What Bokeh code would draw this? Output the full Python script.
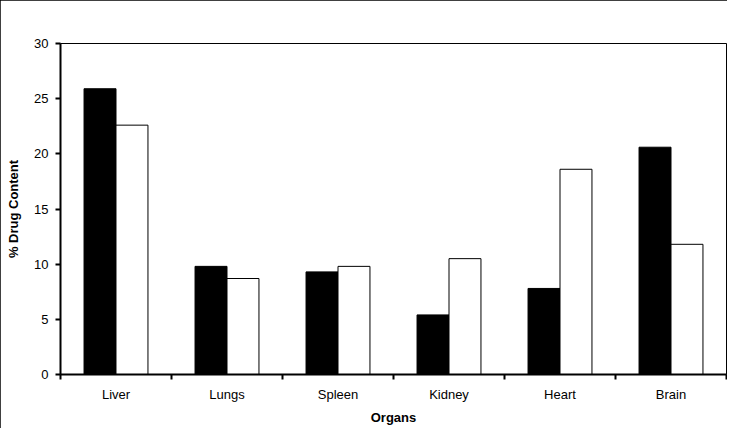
from bokeh.plotting import figure
from bokeh.models import FixedTicker, Range1d, ColumnDataSource
from bokeh.embed import file_html
from bokeh.resources import INLINE

organs = ["Liver", "Lungs", "Spleen", "Kidney", "Heart", "Brain"]
series_black = [25.9, 9.8, 9.3, 5.4, 7.8, 20.6]
series_white = [22.6, 8.7, 9.8, 10.5, 18.6, 11.8]
y_ticks = [0, 5, 10, 15, 20, 25, 30]

n = len(organs)
centers = [i + 0.5 for i in range(n)]
bar_w = 0.288

src = ColumnDataSource(dict(
    xb=[c - bar_w / 2 for c in centers],
    xw=[c + bar_w / 2 for c in centers],
    black=series_black,
    white=series_white,
))

FONT = "Liberation Sans"

p = figure(width=727, height=428, output_backend="svg", toolbar_location=None,
           x_range=Range1d(0, n), y_range=Range1d(0, 30),
           min_border_left=60, min_border_right=1, min_border_top=43, min_border_bottom=54)
p.styles = {"outline": "1px solid black", "outline-offset": "-1px"}

p.vbar(x="xb", width=bar_w, top="black", bottom=0, source=src,
       fill_color="black", line_color="black", line_width=1)
p.vbar(x="xw", width=bar_w, top="white", bottom=0, source=src,
       fill_color="white", line_color="black", line_width=1)

p.xgrid.visible = False
p.ygrid.visible = False
p.background_fill_color = "white"
p.border_fill_color = "white"
p.outline_line_color = "black"
p.outline_line_width = 1

# x axis
xa = p.xaxis[0]
xa.ticker = FixedTicker(ticks=centers, minor_ticks=list(range(n + 1)))
xa.major_label_overrides = {c: o for c, o in zip(centers, organs)}
xa.major_tick_line_color = None
xa.major_tick_out = 5
xa.major_tick_in = 0
xa.minor_tick_line_color = "black"
xa.minor_tick_line_width = 2
xa.minor_tick_out = 5
xa.minor_tick_in = 0
xa.axis_line_width = 2
xa.axis_line_color = "black"
xa.major_label_text_font = FONT
xa.major_label_text_font_size = "13px"
xa.major_label_text_color = "black"
xa.major_label_standoff = 7
xa.axis_label = "Organs"
xa.axis_label_text_font = FONT
xa.axis_label_text_font_size = "13px"
xa.axis_label_text_font_style = "bold"
xa.axis_label_text_color = "black"
xa.axis_label_standoff = 5

# y axis
ya = p.yaxis[0]
ya.ticker = FixedTicker(ticks=y_ticks, minor_ticks=[])
ya.major_tick_line_color = "black"
ya.major_tick_line_width = 2
ya.major_tick_out = 5
ya.major_tick_in = 0
ya.minor_tick_line_color = None
ya.axis_line_width = 2
ya.axis_line_color = "black"
ya.major_label_text_font = FONT
ya.major_label_text_font_size = "13px"
ya.major_label_text_color = "black"
ya.major_label_standoff = 7
ya.axis_label = "% Drug Content"
ya.axis_label_text_font = FONT
ya.axis_label_text_font_size = "13px"
ya.axis_label_text_font_style = "bold"
ya.axis_label_text_color = "black"
ya.axis_label_standoff = 10

open("out.html", "w").write(file_html(p, INLINE))
